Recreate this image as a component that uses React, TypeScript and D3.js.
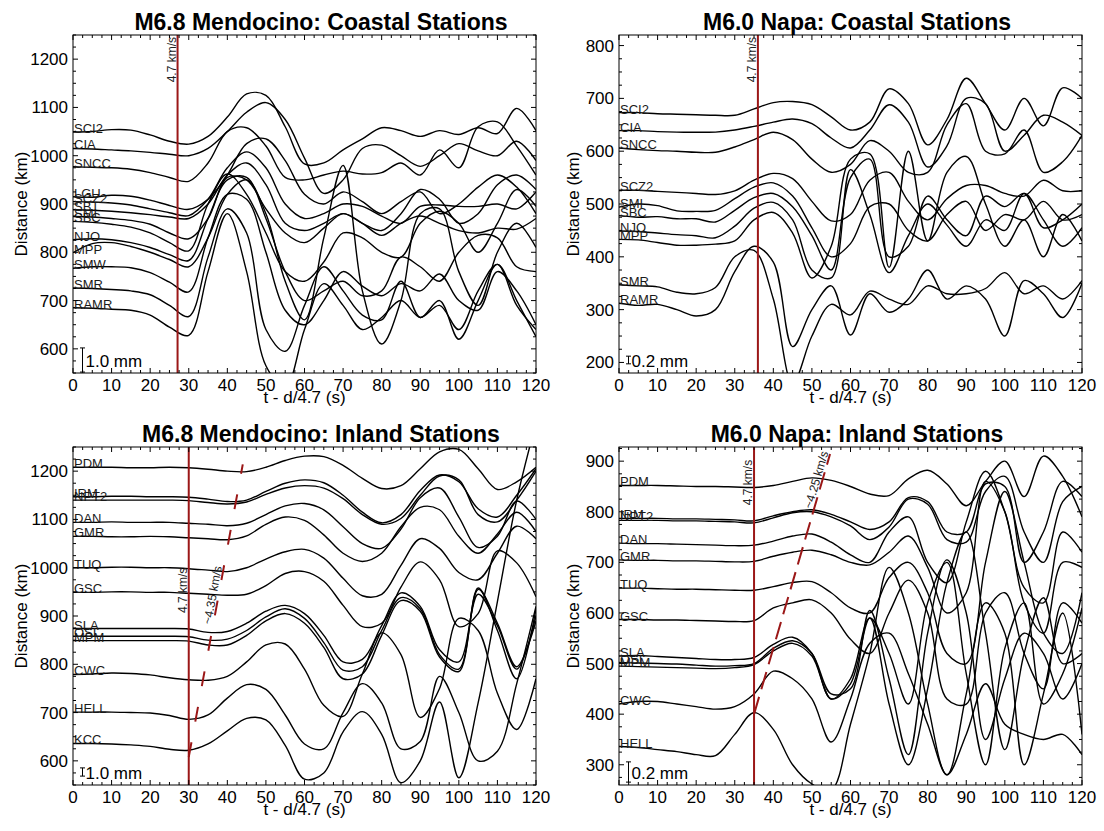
import React from "react";
import * as d3 from "d3";

// sample times (s) shared by every trace
const TIME = [0, 5, 10, 15, 20, 25, 30, 35, 40, 45, 50, 55, 60, 65, 70, 75, 80, 85, 90, 95, 100, 105, 110, 115, 120];
const X_TICKS = [0, 10, 20, 30, 40, 50, 60, 70, 80, 90, 100, 110, 120];

// M6.8 Mendocino, coastal stations (trace position in km)
const TL_STATIONS = ["SCI2", "CIA", "SNCC", "LGU", "SCZ2", "SBT", "SMI", "SBC", "NJO", "MPP", "SMW", "SMR", "RAMR"];
const TL_TRACES = [
  [1049, 1050, 1054, 1053, 1043, 1030, 1024, 1040, 1080, 1128, 1125, 1060, 983, 985, 1012, 1035, 1058, 1052, 1040, 1052, 1044, 1058, 1046, 1098, 1052],
  [1015, 1014, 1012, 1010, 1007, 1003, 1000, 1015, 1050, 1090, 1110, 1075, 995, 922, 950, 1015, 1022, 1000, 978, 1000, 1025, 1010, 1000, 1030, 990],
  [977, 976, 975, 972, 965, 955, 947, 985, 1050, 1058, 1020, 955, 950, 960, 968, 962, 965, 985, 960, 1012, 975, 1060, 1070, 1020, 960],
  [915, 914, 918, 916, 908, 897, 889, 910, 960, 1025, 1035, 990, 920, 900, 925, 905, 880, 905, 925, 880, 900, 935, 960, 935, 880],
  [905, 904, 902, 898, 890, 882, 876, 910, 975, 1008, 975, 900, 870, 880, 900, 895, 875, 860, 895, 898, 895, 895, 900, 890, 925],
  [888, 887, 885, 882, 878, 873, 870, 900, 960, 985, 940, 860, 845, 860, 880, 860, 845, 880, 930, 910, 860, 880, 940, 960, 930],
  [874, 873, 870, 866, 858, 840, 828, 870, 955, 950, 890, 840, 820, 850, 880, 860, 835, 860, 875, 860, 845, 840, 850, 848, 870],
  [864, 862, 858, 852, 840, 820, 803, 900, 962, 920, 840, 760, 740, 780, 840, 830, 800, 790, 860, 885, 860, 800, 860, 930, 895],
  [826, 828, 826, 820, 810, 795, 783, 870, 950, 955, 870, 760, 700, 720, 740, 710, 720, 790, 770, 740, 800, 835, 830, 770, 760],
  [799, 818, 820, 812, 800, 785, 770, 830, 920, 950, 880, 740, 660, 830, 980, 720, 610, 700, 880, 890, 760, 690, 800, 860, 810],
  [767, 770, 770, 768, 758, 738, 718, 830, 920, 910, 800, 680, 650, 700, 760, 730, 710, 735, 720, 755, 700, 680, 760, 720, 650],
  [726, 725, 723, 720, 712, 690, 667, 790, 890, 840, 640, 595, 690, 770, 720, 670, 660, 740, 665, 700, 620, 700, 775, 700, 625],
  [685, 684, 682, 680, 670, 645, 628, 760, 880, 760, 565, 520, 640, 735, 690, 640, 665, 700, 665, 690, 640, 720, 775, 690, 640],
];

// M6.0 Napa, coastal stations
const TR_STATIONS = ["SCI2", "CIA", "SNCC", "SCZ2", "SMI", "SBC", "NJO", "MPP", "SMR", "RAMR"];
const TR_TRACES = [
  [673, 673, 671, 670, 669, 668, 668, 680, 692, 694, 688, 665, 640, 655, 718, 690, 612, 660, 738, 690, 640, 700, 648, 720, 700],
  [639, 639, 637, 636, 636, 636, 640, 647, 655, 661, 652, 625, 606, 640, 688, 655, 570, 610, 700, 690, 600, 630, 668, 655, 630],
  [606, 603, 601, 600, 598, 598, 608, 622, 636, 622, 585, 560, 575, 620, 600, 560, 560, 650, 690, 600, 595, 640, 560, 580, 630],
  [526, 526, 524, 522, 520, 518, 525, 545, 558, 548, 505, 468, 480, 545, 560, 505, 470, 510, 535, 535, 520, 515, 545, 525, 525],
  [494, 500, 497, 487, 486, 488, 510, 532, 540, 515, 455, 400, 425, 495, 500, 450, 430, 480, 505, 450, 480, 470, 505, 470, 480],
  [478, 475, 476, 472, 472, 466, 488, 512, 520, 495, 440, 375, 550, 585, 400, 420, 515, 470, 440, 515, 495, 520, 455, 470, 500],
  [449, 448, 445, 442, 440, 436, 458, 492, 503, 470, 375, 360, 565, 480, 370, 440, 500, 460, 420, 470, 450, 520, 470, 420, 455],
  [433, 432, 427, 422, 422, 424, 430, 470, 484, 445, 360, 420, 585, 595, 380, 600, 430, 560, 590, 500, 420, 470, 400, 480, 430],
  [347, 345, 343, 333, 330, 342, 400, 412, 320, 160, 250, 310, 290, 335, 320, 310, 345, 330, 330, 340, 370, 330, 345, 320, 355],
  [312, 308, 310, 300, 288, 300, 372, 420, 390, 230, 300, 345, 252, 330, 295, 320, 375, 320, 345, 320, 250, 355, 330, 285, 350],
];

// M6.8 Mendocino, inland stations
const BL_STATIONS = ["PDM", "IRM", "NPT2", "DAN", "GMR", "TUQ", "GSC", "SLA", "OSI", "MPM", "CWC", "HELL", "KCC"];
const BL_TRACES = [
  [1208, 1208, 1208, 1207, 1207, 1208, 1207, 1204, 1200, 1199, 1208, 1222, 1231, 1230, 1212, 1185, 1164, 1170, 1205, 1240, 1245, 1205, 1162, 1178, 1208],
  [1147, 1147, 1148, 1148, 1147, 1147, 1146, 1142, 1137, 1140, 1158, 1175, 1182, 1176, 1150, 1115, 1093, 1110, 1160, 1192, 1178, 1122, 1105, 1150, 1205],
  [1140, 1140, 1140, 1140, 1140, 1140, 1139, 1135, 1132, 1136, 1152, 1165, 1170, 1165, 1143, 1110, 1090, 1102, 1150, 1190, 1182, 1110, 1095, 1140, 1200],
  [1094, 1094, 1095, 1094, 1094, 1094, 1092, 1090, 1087, 1092, 1110, 1128, 1133, 1120, 1085, 1050, 1040, 1080, 1145, 1165, 1105, 1042, 1065, 1138, 1100],
  [1065, 1065, 1064, 1064, 1065, 1064, 1062, 1060, 1058, 1066, 1090, 1105, 1098, 1068, 1030, 1013, 1030, 1085, 1125, 1120, 1065, 1030, 1070, 1115, 1075],
  [1000, 1000, 1001, 1001, 1000, 1000, 998, 995, 992, 1000, 1018, 1033, 1038, 1020, 978, 942, 945, 1005, 1060, 1040, 990, 975, 1030, 1086, 1060],
  [949, 949, 950, 950, 949, 949, 947, 945, 943, 945, 963, 988, 992, 972, 922, 878, 885, 960, 1012, 975, 878, 905, 1035, 1010, 940],
  [874, 874, 874, 874, 874, 874, 873, 866, 868, 885, 910, 922, 905, 860, 805, 810, 880, 948, 920, 830, 805, 945, 880, 790, 900],
  [858, 858, 858, 858, 858, 858, 857, 850, 852, 870, 898, 915, 895, 845, 788, 795, 870, 938, 915, 820, 790, 958, 870, 770, 915],
  [849, 849, 849, 849, 849, 849, 848, 840, 840, 860, 890, 905, 885, 835, 770, 780, 860, 932, 910, 815, 785, 955, 885, 795, 890],
  [779, 780, 782, 781, 778, 772, 768, 767, 775, 805, 840, 842, 790, 715, 692, 780, 865, 820, 690, 750, 895, 870, 740, 665, 770],
  [701, 701, 701, 700, 699, 694, 686, 695, 730, 758, 748, 695, 635, 625, 700, 760, 720, 625, 640, 775, 700, 600, 620, 760, 920],
  [636, 636, 635, 633, 630, 624, 622, 635, 662, 688, 685, 632, 562, 575, 660, 702, 655, 555, 600, 722, 565, 720, 930, 1140, 1300],
];

// M6.0 Napa, inland stations
const BR_STATIONS = ["PDM", "IRM", "NPT2", "DAN", "GMR", "TUQ", "GSC", "SLA", "OSI", "MPM", "CWC", "HELL"];
const BR_TRACES = [
  [852, 852, 852, 851, 850, 850, 849, 848, 852, 860, 867, 862, 850, 835, 832, 865, 882, 855, 812, 860, 900, 830, 910, 870, 790],
  [787, 787, 787, 786, 786, 785, 784, 782, 792, 800, 804, 795, 780, 765, 780, 828, 820, 760, 760, 855, 850, 700, 760, 860, 830],
  [783, 783, 783, 782, 782, 781, 780, 778, 788, 798, 800, 790, 772, 745, 770, 825, 815, 745, 740, 840, 870, 760, 700, 820, 850],
  [738, 737, 737, 736, 735, 734, 733, 734, 742, 752, 756, 740, 715, 700, 760, 790, 700, 660, 780, 880, 800, 650, 620, 760, 720],
  [705, 704, 704, 703, 703, 702, 701, 702, 712, 720, 724, 715, 700, 695, 720, 752, 690, 600, 640, 860, 800, 620, 560, 700, 690],
  [649, 649, 648, 647, 647, 646, 645, 645, 652, 660, 662, 640, 610, 600, 670, 700, 640, 520, 500, 700, 840, 700, 560, 520, 640],
  [587, 587, 586, 586, 585, 584, 583, 585, 610, 620, 626, 600, 548, 520, 600, 665, 600, 430, 420, 600, 640, 520, 450, 620, 580],
  [515, 516, 514, 512, 510, 508, 508, 512, 538, 552, 520, 430, 470, 590, 520, 420, 620, 700, 480, 300, 530, 620, 420, 480, 610],
  [502, 501, 500, 499, 497, 495, 496, 500, 530, 545, 520, 440, 450, 605, 470, 320, 560, 705, 600, 350, 470, 560, 520, 430, 500],
  [495, 494, 493, 492, 491, 490, 492, 498, 525, 540, 515, 430, 460, 590, 420, 300, 450, 660, 760, 560, 330, 520, 630, 500, 520],
  [420, 425, 425, 420, 415, 410, 415, 440, 485, 470, 430, 345, 430, 540, 560, 480, 380, 280, 440, 620, 560, 300, 440, 600, 360],
  [336, 334, 330, 326, 320, 318, 360, 403, 370, 300, 262, 250, 380, 520, 690, 600, 420, 280, 360, 460, 380, 360, 350, 360, 320],
];

const FONT = "'Liberation Sans', Arial, Helvetica, sans-serif";
const RED = "#9b1717";
const PW = 463;
const PH = 338;

type Slope = { t1: number; d1: number; t2: number; d2: number; label: string; labelD: number; dash: string };

type PanelProps = {
  id: string;
  left: number;
  top: number;
  title: string;
  titleX: number;
  yDomain: [number, number];
  yTicks: number[];
  stations: string[];
  traces: number[][];
  redT: number;
  redLabelD?: number;
  slope?: Slope;
  barKm: number;
  barLabel: string;
};

function Panel(p: PanelProps) {
  const x = d3.scaleLinear().domain([0, 120]).range([p.left, p.left + PW]);
  const y = d3.scaleLinear().domain(p.yDomain).range([p.top + PH, p.top]);
  const bottom = p.top + PH;
  const right = p.left + PW;
  const line = d3
    .line<number>()
    .x((_, i) => x(TIME[i]))
    .y((d) => y(d))
    .curve(d3.curveCatmullRom.alpha(0.5));

  const minorX = d3.range(0, 120.01, 2.5);
  const minorY = d3.range(Math.ceil(p.yDomain[0] / 25) * 25, p.yDomain[1] + 0.01, 25);
  const wide = p.yTicks[p.yTicks.length - 1] >= 1000;

  // slope line geometry
  let slopeEl = null;
  if (p.slope) {
    const s = p.slope;
    const ax = x(s.t1), ay = y(s.d1), bx = x(s.t2), by = y(s.d2);
    const ang = (Math.atan2(by - ay, bx - ax) * 180) / Math.PI;
    const f = (s.labelD - s.d1) / (s.d2 - s.d1);
    const lx = ax + (bx - ax) * f;
    const ly = ay + (by - ay) * f;
    slopeEl = (
      <g>
        <line x1={ax} y1={ay} x2={bx} y2={by} stroke={RED} strokeWidth={2} strokeDasharray={s.dash} />
        <text
          transform={`translate(${lx},${ly}) rotate(${ang})`}
          dy={-2}
          textAnchor="middle"
          fontSize={12}
          fill="#222"
        >
          {s.label}
        </text>
      </g>
    );
  }

  const rx = x(p.redT);
  const barX = p.left + 9.5;
  const barH = Math.abs(y(p.yDomain[0] + p.barKm) - y(p.yDomain[0]));
  const barC = bottom - 13;

  return (
    <g fontFamily={FONT}>
      <defs>
        <clipPath id={`clip-${p.id}`}>
          <rect x={p.left} y={p.top} width={PW} height={PH} />
        </clipPath>
      </defs>
      <text x={p.titleX} y={p.top - 5} textAnchor="middle" fontSize={23} fontWeight="bold">
        {p.title}
      </text>

      {/* traces */}
      <g clipPath={`url(#clip-${p.id})`}>
        {p.traces.map((tr, i) => (
          <path key={i} d={line(tr) || ""} fill="none" stroke="#000" strokeWidth={1.4} />
        ))}
        {p.stations.map((s, i) => (
          <text key={s + i} x={p.left + 1} y={y(p.traces[i][0]) + 1} fontSize={13} fill="#1a1a1a">
            {s}
          </text>
        ))}
        <line x1={rx} x2={rx} y1={p.top} y2={bottom} stroke={RED} strokeWidth={2} />
        {slopeEl}
      </g>

      {/* 4.7 km/s label */}
      {p.redLabelD === undefined ? (
        <text transform={`translate(${rx - 2},${p.top + 2}) rotate(-90)`} textAnchor="end" fontSize={12} fill="#222">
          4.7 km/s
        </text>
      ) : (
        <text transform={`translate(${rx - 2},${y(p.redLabelD)}) rotate(-90)`} textAnchor="start" fontSize={12} fill="#222">
          4.7 km/s
        </text>
      )}

      {/* amplitude scale bar */}
      <g stroke="#000" strokeWidth={1}>
        <line x1={barX} x2={barX} y1={barC - barH / 2} y2={barC + barH / 2} />
        <line x1={barX - 2.5} x2={barX + 2.5} y1={barC - barH / 2} y2={barC - barH / 2} />
        <line x1={barX - 2.5} x2={barX + 2.5} y1={barC + barH / 2} y2={barC + barH / 2} />
      </g>
      <text x={barX + 3} y={bottom - 6.5} fontSize={17}>
        {p.barLabel}
      </text>

      {/* frame and ticks */}
      <rect x={p.left} y={p.top} width={PW} height={PH} fill="none" stroke="#000" strokeWidth={1} />
      <g stroke="#000" strokeWidth={1}>
        {minorX.map((t) => {
          const len = t % 10 === 0 ? 5 : 3;
          return (
            <g key={"x" + t}>
              <line x1={x(t)} x2={x(t)} y1={bottom} y2={bottom - len} />
              <line x1={x(t)} x2={x(t)} y1={p.top} y2={p.top + len} />
            </g>
          );
        })}
        {minorY.map((d) => {
          const len = d % 100 === 0 ? 5 : 3;
          return (
            <g key={"y" + d}>
              <line x1={p.left} x2={p.left + len} y1={y(d)} y2={y(d)} />
              <line x1={right} x2={right - len} y1={y(d)} y2={y(d)} />
            </g>
          );
        })}
      </g>
      {X_TICKS.map((t) => (
        <text key={"xl" + t} x={x(t)} y={bottom + 18} textAnchor="middle" fontSize={17}>
          {t}
        </text>
      ))}
      {p.yTicks.map((d) => (
        <text key={"yl" + d} x={p.left - 5} y={y(d) + 6} textAnchor="end" fontSize={17}>
          {d}
        </text>
      ))}
      <text x={p.left + PW / 2} y={bottom + 30} textAnchor="middle" fontSize={17}>
        t - d/4.7 (s)
      </text>
      <text
        transform={`translate(${p.left - (wide ? 46 : 40.5)},${p.top + PH / 2}) rotate(-90)`}
        textAnchor="middle"
        fontSize={17}
      >
        Distance (km)
      </text>
    </g>
  );
}

export default function App() {
  return (
    <svg width={1104} height={831} style={{ position: "absolute", left: 0, top: 0, background: "#fff" }}>
      <Panel
        id="tl"
        left={73}
        top={35}
        title="M6.8 Mendocino: Coastal Stations"
        titleX={321}
        yDomain={[550, 1250]}
        yTicks={[600, 700, 800, 900, 1000, 1100, 1200]}
        stations={TL_STATIONS}
        traces={TL_TRACES}
        redT={27.1}
        barKm={50}
        barLabel="1.0 mm"
      />
      <Panel
        id="tr"
        left={619}
        top={35}
        title="M6.0 Napa: Coastal Stations"
        titleX={857}
        yDomain={[180, 820]}
        yTicks={[200, 300, 400, 500, 600, 700, 800]}
        stations={TR_STATIONS}
        traces={TR_TRACES}
        redT={36}
        barKm={14.5}
        barLabel="0.2 mm"
      />
      <Panel
        id="bl"
        left={73}
        top={447}
        title="M6.8 Mendocino: Inland Stations"
        titleX={321}
        yDomain={[550, 1250]}
        yTicks={[600, 700, 800, 900, 1000, 1100, 1200]}
        stations={BL_STATIONS}
        traces={BL_TRACES}
        redT={30}
        redLabelD={906}
        slope={{ t1: 30, d1: 608, t2: 44, d2: 1214, label: "~4.35 km/s", labelD: 941, dash: "15,21" }}
        barKm={17}
        barLabel="1.0 mm"
      />
      <Panel
        id="br"
        left={619}
        top={447}
        title="M6.0 Napa: Inland Stations"
        titleX={857}
        yDomain={[260, 928]}
        yTicks={[300, 400, 500, 600, 700, 800, 900]}
        stations={BR_STATIONS}
        traces={BR_TRACES}
        redT={35}
        redLabelD={813}
        slope={{ t1: 35, d1: 400, t2: 54.7, d2: 914, label: "~4.25 km/s", labelD: 860, dash: "18,8" }}
        barKm={40}
        barLabel="0.2 mm"
      />
    </svg>
  );
}
